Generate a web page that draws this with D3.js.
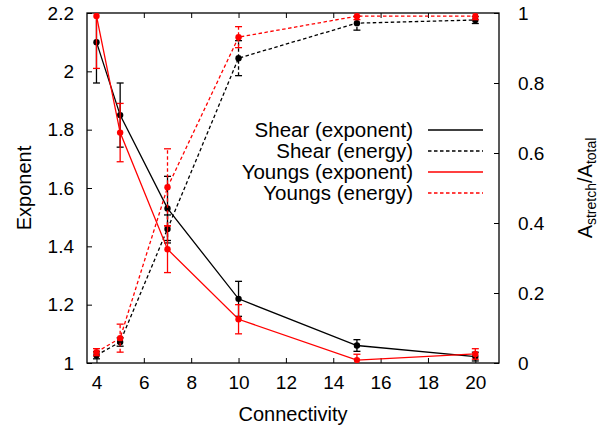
<!DOCTYPE html>
<html>
<head>
<meta charset="utf-8">
<script src="https://cdn.jsdelivr.net/npm/d3@7"></script>
<style>
  html, body { margin: 0; padding: 0; background: #fff; }
  svg { display: block; font-family: "Liberation Sans", Arial, Helvetica, sans-serif; }
</style>
</head>
<body>
<svg id="chart" width="611" height="431"></svg>
<script>
// Connectivity values shared by all series
const connectivity = [4, 5, 7, 10, 15, 20];

// Scaling exponents (left axis) with error bars
const shearExponent = [2.10, 1.85, 1.53, 1.22, 1.06, 1.022];
const shearExponentErr = [0.14, 0.11, 0.11, 0.06, 0.02, 0.015];
const youngsExponent = [2.19, 1.79, 1.39, 1.15, 1.01, 1.031];
const youngsExponentErr = [0.18, 0.10, 0.08, 0.05, 0.02, 0.018];

// Stretching energy fraction (right axis) with error bars
const shearEnergy = [0.022, 0.060, 0.383, 0.871, 0.971, 0.980];
const shearEnergyErr = [0.01, 0.012, 0.04, 0.05, 0.02, 0.01];
const youngsEnergy = [0.031, 0.071, 0.502, 0.931, 0.991, 0.991];
const youngsEnergyErr = [0.01, 0.04, 0.11, 0.03, 0.01, 0.01];

const xTicks = [4, 6, 8, 10, 12, 14, 16, 18, 20];
const yLeftTicks = [1, 1.2, 1.4, 1.6, 1.8, 2, 2.2];
const yRightTicks = [0, 0.2, 0.4, 0.6, 0.8, 1];

const legendLabels = ["Shear (exponent)", "Shear (energy)", "Youngs (exponent)", "Youngs (energy)"];

const svg = d3.select("#chart");
const m = { left: 87, right: 499, top: 13, bottom: 363 };

const x = d3.scaleLinear().domain([3.6, 21]).range([m.left, m.right]);
const yL = d3.scaleLinear().domain([1, 2.2]).range([m.bottom, m.top]);
const yR = d3.scaleLinear().domain([0, 1]).range([m.bottom, m.top]);

const tickFont = 19;
const legendFont = 20.5;
const labelFont = 20;
const tickLen = 5;

// clip region for data
svg.append("defs").append("clipPath").attr("id", "plotClip")
  .append("rect").attr("x", m.left).attr("y", m.top)
  .attr("width", m.right - m.left).attr("height", m.bottom - m.top);

// Axes: ticks drawn inward, labels outside
const fmtL = d => d3.format("")(+d.toFixed(1));
const gBottom = svg.append("g").attr("transform", `translate(0,${m.bottom})`)
  .call(d3.axisBottom(x).tickValues(xTicks).tickSize(-tickLen).tickPadding(13).tickFormat(d3.format("d")));
const gTop = svg.append("g").attr("transform", `translate(0,${m.top})`)
  .call(d3.axisTop(x).tickValues(xTicks).tickSize(-tickLen).tickFormat(""));
const gLeft = svg.append("g").attr("transform", `translate(${m.left},0)`)
  .call(d3.axisLeft(yL).tickValues(yLeftTicks).tickSize(-tickLen).tickPadding(13).tickFormat(fmtL));
const gRight = svg.append("g").attr("transform", `translate(${m.right},0)`)
  .call(d3.axisRight(yR).tickValues(yRightTicks).tickSize(-tickLen).tickPadding(19).tickFormat(fmtL));

[gBottom, gTop, gLeft, gRight].forEach(g => {
  g.select(".domain").remove();
  g.selectAll(".tick line").attr("stroke", "#000").attr("stroke-width", 1);
  g.selectAll(".tick text").attr("fill", "#000").style("font-size", tickFont + "px")
    .style("font-family", "'Liberation Sans', Arial, sans-serif");
});

// frame
svg.append("rect").attr("x", m.left).attr("y", m.top)
  .attr("width", m.right - m.left).attr("height", m.bottom - m.top)
  .attr("fill", "none").attr("stroke", "#000").attr("stroke-width", 1.3);

// Series definitions
const series = [
  { vals: shearExponent, err: shearExponentErr, y: yL, color: "#000", dash: null },
  { vals: shearEnergy, err: shearEnergyErr, y: yR, color: "#000", dash: "3.5,2.5" },
  { vals: youngsExponent, err: youngsExponentErr, y: yL, color: "#f00", dash: null },
  { vals: youngsEnergy, err: youngsEnergyErr, y: yR, color: "#f00", dash: "3.5,2.5" }
];

const plot = svg.append("g").attr("clip-path", "url(#plotClip)");
const capW = 3.5;

series.forEach(s => {
  const pts = connectivity.map((c, i) => ({ c, v: s.vals[i], e: s.err[i] }));
  const g = plot.append("g");
  const line = d3.line().x(d => x(d.c)).y(d => s.y(d.v));
  g.append("path").datum(pts).attr("d", line)
    .attr("fill", "none").attr("stroke", s.color).attr("stroke-width", 1.3)
    .attr("stroke-dasharray", s.dash);
  // error bars
  const eb = g.selectAll(".eb").data(pts).enter().append("g");
  eb.append("line")
    .attr("x1", d => x(d.c)).attr("x2", d => x(d.c))
    .attr("y1", d => s.y(d.v - d.e)).attr("y2", d => s.y(d.v + d.e))
    .attr("stroke", s.color).attr("stroke-width", 1.3).attr("stroke-dasharray", s.dash);
  [-1, 1].forEach(sign => {
    eb.append("line")
      .attr("x1", d => x(d.c) - capW).attr("x2", d => x(d.c) + capW)
      .attr("y1", d => s.y(d.v + sign * d.e)).attr("y2", d => s.y(d.v + sign * d.e))
      .attr("stroke", s.color).attr("stroke-width", 1.3);
  });
  g.selectAll("circle").data(pts).enter().append("circle")
    .attr("cx", d => x(d.c)).attr("cy", d => s.y(d.v)).attr("r", 3.2)
    .attr("fill", s.color);
});

// Legend
const legend = svg.append("g");
legendLabels.forEach((lab, i) => {
  const yy = 130 + i * 21;
  legend.append("text").attr("x", 413).attr("y", yy).attr("dy", "0.35em")
    .attr("text-anchor", "end").style("font-size", legendFont + "px").attr("fill", "#000").text(lab);
  legend.append("line").attr("x1", 428).attr("x2", 483).attr("y1", yy).attr("y2", yy)
    .attr("stroke", series[i].color).attr("stroke-width", 1.3)
    .attr("stroke-dasharray", series[i].dash);
});

// Axis titles
svg.append("text").attr("x", (m.left + m.right) / 2).attr("y", 421)
  .attr("text-anchor", "middle").style("font-size", labelFont + "px").text("Connectivity");
svg.append("text").attr("transform", `translate(31,${(m.top + m.bottom) / 2}) rotate(-90)`)
  .attr("text-anchor", "middle").style("font-size", labelFont + "px").text("Exponent");
const rt = svg.append("text").attr("transform", `translate(592,${(m.top + m.bottom) / 2}) rotate(-90)`)
  .attr("text-anchor", "middle").style("font-size", labelFont + "px");
rt.append("tspan").text("A");
rt.append("tspan").attr("dy", 4).style("font-size", "14px").text("stretch");
rt.append("tspan").attr("dy", -4).text("/A");
rt.append("tspan").attr("dy", 4).style("font-size", "14px").text("total");
</script>
</body>
</html>
